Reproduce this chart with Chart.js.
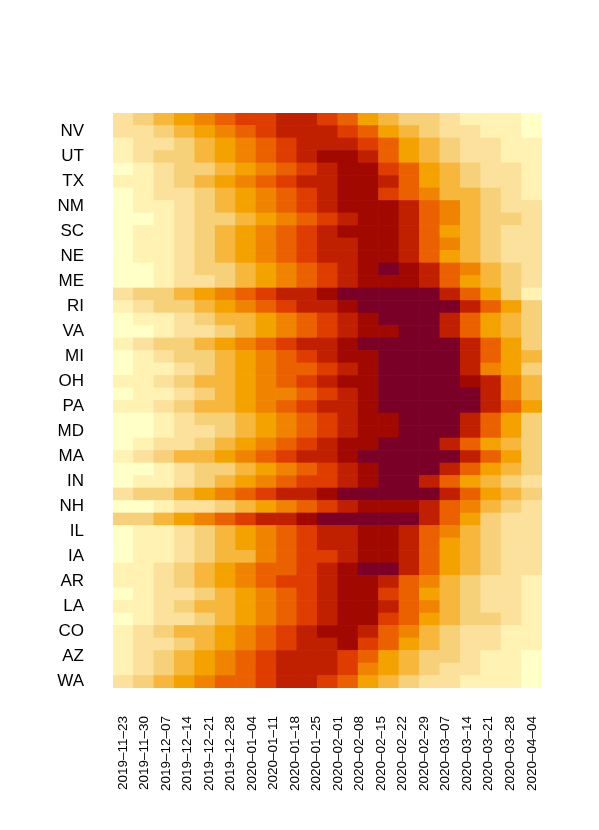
<!DOCTYPE html>
<html>
<head>
<meta charset="utf-8">
<script src="https://cdn.jsdelivr.net/npm/chart.js@4.4.1/dist/chart.umd.min.js"></script>
<style>
  html, body { margin: 0; padding: 0; background: #fff; }
  #wrap { width: 599px; height: 830px; }
</style>
</head>
<body>
<div id="wrap"><canvas id="chart"></canvas></div>
<script>
// week labels along the bottom (20 labels spread over the 21 columns)
const weekLabels = [
  "2019-11-23", "2019-11-30", "2019-12-07", "2019-12-14", "2019-12-21",
  "2019-12-28", "2020-01-04", "2020-01-11", "2020-01-18", "2020-01-25",
  "2020-02-01", "2020-02-08", "2020-02-15", "2020-02-22", "2020-02-29",
  "2020-03-07", "2020-03-14", "2020-03-21", "2020-03-28", "2020-04-04",
];

// row labels that are printed (every other row, top to bottom)
const stateLabels = [
  "NV", "UT", "TX", "NM", "SC", "NE", "ME", "RI", "VA", "MI", "OH", "PA",
  "MD", "MA", "IN", "NH", "IL", "IA", "AR", "LA", "CO", "AZ", "WA",
];

// colour bins, light to dark
const palette = [
  "#FFFFC8", "#FFF2B2", "#FBE19C", "#F7D07A", "#F6B73C", "#F4A200",
  "#F08400", "#EB6100", "#DF3C00", "#C02000", "#A00800", "#7A0028",
];

// binned level of every cell, one row per line, top row first
const levels = [
  [2,3,4,5,6,7,8,8,9,9,8,7,5,4,3,3,2,1,1,1,0],
  [2,2,3,4,5,6,7,8,9,9,9,8,7,5,4,3,2,2,1,1,0],
  [1,2,2,3,4,5,6,7,8,9,9,9,8,7,5,4,3,2,2,1,1],
  [1,2,3,3,4,5,6,7,8,9,10,10,9,7,5,4,3,2,2,1,1],
  [0,1,2,3,3,4,5,6,7,8,9,10,10,8,7,5,4,3,2,2,1],
  [1,1,2,3,4,5,6,7,8,9,9,10,10,9,7,5,4,3,2,2,1],
  [0,1,2,2,3,4,5,6,7,8,9,10,10,8,7,6,4,4,3,2,1],
  [0,1,1,2,3,4,5,6,7,8,9,10,10,10,9,7,6,4,3,2,2],
  [0,0,1,2,3,3,4,5,6,7,8,9,10,10,9,7,6,4,3,3,2],
  [0,1,1,2,3,4,5,6,7,8,9,10,10,10,9,7,5,4,3,2,2],
  [0,1,1,2,3,4,5,6,7,8,9,9,10,10,9,7,6,4,3,2,2],
  [0,1,1,2,3,4,5,6,7,8,9,9,10,10,9,7,5,4,3,2,2],
  [0,0,1,2,3,3,4,5,6,7,8,9,10,11,10,9,7,6,4,3,2],
  [0,0,1,2,2,3,4,5,6,7,8,9,10,10,10,9,7,5,4,3,2],
  [2,3,3,4,5,6,7,8,9,9,10,11,11,11,11,11,9,7,5,3,1],
  [1,2,3,3,4,5,6,7,8,9,9,10,11,11,11,11,11,9,7,5,3],
  [0,1,1,2,3,4,4,5,6,7,8,9,10,11,11,11,9,7,5,4,3],
  [0,0,1,2,2,3,4,5,6,7,8,9,10,10,11,11,9,7,5,4,3],
  [1,2,3,3,4,5,6,7,8,9,9,10,11,11,11,11,11,9,7,5,3],
  [0,1,2,3,3,4,5,6,7,8,9,10,10,11,11,11,11,9,7,5,4],
  [0,1,1,2,3,4,5,6,7,7,8,9,10,11,11,11,11,9,6,5,3],
  [1,1,2,3,4,4,5,6,7,8,9,10,10,11,11,11,11,10,9,6,4],
  [0,1,1,2,3,4,5,6,6,7,8,9,10,11,11,11,11,11,9,6,4],
  [1,1,2,3,4,4,5,6,7,8,9,9,10,11,11,11,11,11,9,7,5],
  [0,0,1,2,3,3,4,5,6,7,8,9,10,10,11,11,11,9,7,5,3],
  [0,0,1,2,2,3,4,5,6,7,8,9,10,10,11,11,11,9,7,5,3],
  [0,1,2,2,3,4,5,6,7,8,9,10,10,11,11,11,9,7,5,4,3],
  [1,2,3,4,4,5,6,7,8,9,9,10,11,11,11,11,11,9,7,5,3],
  [0,0,1,2,3,3,4,5,6,7,8,9,10,11,11,11,9,7,5,4,3],
  [0,1,1,2,3,4,5,6,7,8,8,9,10,11,11,9,7,5,4,3,2],
  [2,3,3,4,5,6,7,8,9,9,10,11,11,11,11,11,9,7,5,4,3],
  [0,0,1,2,2,3,4,5,6,7,8,9,10,10,10,9,7,6,4,3,2],
  [3,3,4,5,6,7,8,9,9,10,11,11,11,11,11,9,7,5,3,2,2],
  [0,1,1,2,3,4,5,6,7,8,9,9,10,10,9,7,6,4,3,2,2],
  [0,1,1,2,3,4,5,6,7,8,9,9,10,10,9,7,5,4,3,2,2],
  [0,1,1,2,3,4,4,6,7,8,8,9,10,10,9,7,5,4,3,2,2],
  [1,1,2,3,4,5,6,7,7,8,9,10,11,11,9,7,5,4,3,2,2],
  [1,1,2,3,4,5,6,7,8,8,9,10,10,9,7,6,4,3,2,2,1],
  [0,1,2,2,3,4,5,6,7,8,9,10,10,8,7,5,4,3,2,2,1],
  [1,1,2,3,4,4,5,6,7,8,9,10,10,9,7,6,4,3,2,2,1],
  [0,1,2,2,3,4,5,6,7,8,9,10,10,8,7,5,4,3,3,2,1],
  [1,2,3,4,4,5,6,7,8,9,10,10,9,7,6,4,3,2,2,1,1],
  [1,2,2,3,4,5,6,7,8,9,9,10,8,7,5,4,3,2,2,1,1],
  [1,2,3,4,5,6,7,8,9,9,9,8,7,5,4,3,3,2,1,1,0],
  [1,2,3,4,5,6,7,8,9,9,9,8,6,5,4,3,2,2,1,1,0],
  [2,3,4,5,6,7,7,8,9,9,8,7,5,4,3,2,2,1,1,1,0],
];

const nRows = levels.length;
const nCols = levels[0].length;

// one floating bar per cell: x = column, y spans [row, row + 1]
const cells = [];
const cellColors = [];
levels.forEach((row, r) => {
  row.forEach((level, c) => {
    cells.push({x: c, y: [r, r + 1]});
    cellColors.push(palette[level]);
  });
});

const fontFamily = "'Liberation Sans', Arial, sans-serif";

new Chart(document.getElementById("chart"), {
  type: "bar",
  data: {
    datasets: [{
      data: cells,
      backgroundColor: cellColors,
      borderWidth: 0,
      barPercentage: 1,
      categoryPercentage: 1,
    }],
  },
  options: {
    responsive: true,
    maintainAspectRatio: false,
    animation: false,
    layout: {padding: {top: 113, right: 57, left: 0, bottom: 0}},
    plugins: {
      legend: {display: false},
      tooltip: {enabled: false},
    },
    scales: {
      x: {
        type: "linear",
        min: -0.5,
        max: nCols - 0.5,
        offset: false,
        grid: {display: false},
        border: {display: false},
        afterBuildTicks: scale => {
          scale.ticks = weekLabels.map((_, i) => ({value: i * (nCols - 1) / (weekLabels.length - 1)}));
        },
        afterFit: scale => {
          scale.height = 142;
        },
        ticks: {
          autoSkip: false,
          maxRotation: 90,
          minRotation: 90,
          padding: 20,
          color: "#000",
          font: {family: fontFamily, size: 13.5},
          callback: (value, index) => weekLabels[index].replace(/-/g, "\u2013"),
        },
      },
      y: {
        type: "linear",
        min: 0,
        max: nRows,
        reverse: true,
        grid: {display: false},
        border: {display: false},
        afterBuildTicks: scale => {
          scale.ticks = stateLabels.map((_, i) => ({value: 2 * i + 1.5}));
        },
        afterFit: scale => {
          scale.width = 113;
        },
        ticks: {
          autoSkip: false,
          padding: 21,
          color: "#000",
          font: {family: fontFamily, size: 17},
          callback: (value, index) => stateLabels[index],
        },
      },
    },
  },
});
</script>
</body>
</html>
